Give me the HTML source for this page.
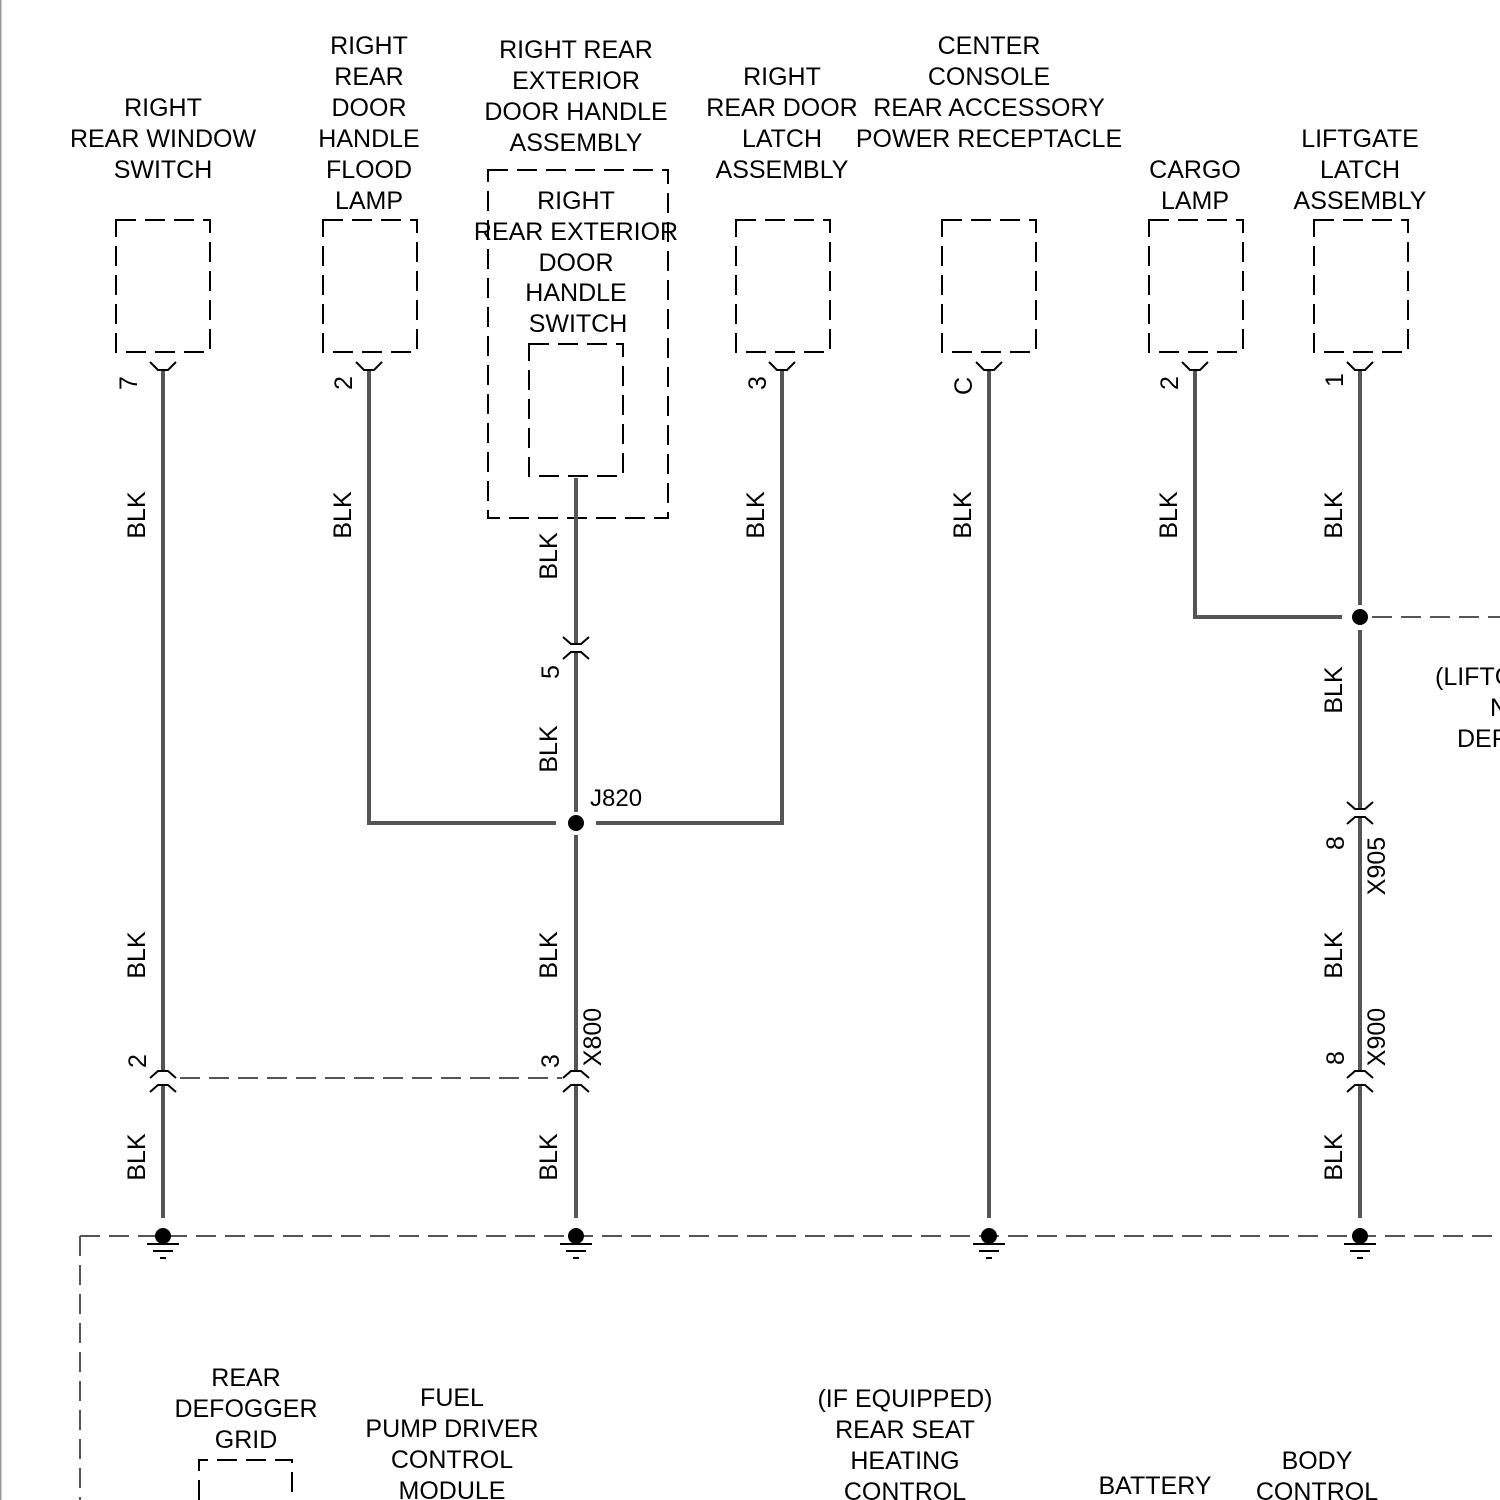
<!DOCTYPE html>
<html><head><meta charset="utf-8"><style>
html,body{margin:0;padding:0;background:#fff;}
svg{display:block;}
text{font-family:"Liberation Sans",sans-serif;font-size:25px;fill:#000;}
</style></head><body>
<svg width="1500" height="1500" viewBox="0 0 1500 1500" xmlns="http://www.w3.org/2000/svg">
<line x1="0.5" y1="0" x2="0.5" y2="1500" stroke="#999" stroke-width="2"/>
<g text-anchor="middle">
<text x="163" y="116">RIGHT</text><text x="163" y="147">REAR WINDOW</text><text x="163" y="178">SWITCH</text>
<text x="369" y="54">RIGHT</text><text x="369" y="85">REAR</text><text x="369" y="116">DOOR</text><text x="369" y="147">HANDLE</text><text x="369" y="178">FLOOD</text><text x="369" y="209">LAMP</text>
<text x="576" y="58">RIGHT REAR</text><text x="576" y="89">EXTERIOR</text><text x="576" y="120">DOOR HANDLE</text><text x="576" y="151">ASSEMBLY</text>
<text x="576" y="209">RIGHT</text><text x="576" y="240">REAR EXTERIOR</text><text x="576" y="271">DOOR</text><text x="576" y="301">HANDLE</text><text x="578" y="332">SWITCH</text>
<text x="782" y="85">RIGHT</text><text x="782" y="116">REAR DOOR</text><text x="782" y="147">LATCH</text><text x="782" y="178">ASSEMBLY</text>
<text x="989" y="54">CENTER</text><text x="989" y="85">CONSOLE</text><text x="989" y="116">REAR ACCESSORY</text><text x="989" y="147">POWER RECEPTACLE</text>
<text x="1195" y="178">CARGO</text><text x="1195" y="209">LAMP</text>
<text x="1360" y="147">LIFTGATE</text><text x="1360" y="178">LATCH</text><text x="1360" y="209">ASSEMBLY</text>
<text x="246" y="1386">REAR</text><text x="246" y="1417">DEFOGGER</text><text x="246" y="1448">GRID</text>
<text x="452" y="1406">FUEL</text><text x="452" y="1437">PUMP DRIVER</text><text x="452" y="1468">CONTROL</text><text x="452" y="1499">MODULE</text>
<text x="905" y="1407">(IF EQUIPPED)</text><text x="905" y="1438">REAR SEAT</text><text x="905" y="1469">HEATING</text><text x="905" y="1500">CONTROL</text>
<text x="1155" y="1494">BATTERY</text>
<text x="1317" y="1469">BODY</text><text x="1317" y="1500">CONTROL</text>
</g>
<text x="1435" y="685">(LIFTG</text><text x="1490" y="716">N</text><text x="1457" y="747">DEF</text>
<text x="590" y="806" style="font-size:24px">J820</text>

<g fill="none" stroke="#000" stroke-width="2" stroke-dasharray="20,9">
<rect x="116" y="220" width="94" height="132"/>
<rect x="323" y="220" width="94" height="132"/>
<rect x="736" y="220" width="94" height="132"/>
<rect x="942" y="220" width="94" height="132"/>
<rect x="1149" y="220" width="94" height="132"/>
<rect x="1314" y="220" width="94" height="132"/>
<rect x="488" y="170" width="180" height="348"/>
<rect x="529" y="344" width="94" height="132"/>
<path d="M199 1500 V1460 H292 V1500"/>
</g>
<g fill="none" stroke="#555" stroke-width="2" stroke-dasharray="20,9">
<line x1="180" y1="1078" x2="562" y2="1078"/>
<line x1="1372" y1="617" x2="1500" y2="617"/>
<line x1="80" y1="1236" x2="1500" y2="1236"/>
<line x1="80" y1="1236" x2="80" y2="1500"/>
</g>

<g fill="none" stroke="#555" stroke-width="4">
<path d="M163 370 V1071 M163 1085 V1218"/>
<path d="M369 370 V823 H556"/>
<path d="M576 478 V644 M576 652 V812 M576 835 V1071 M576 1085 V1218"/>
<path d="M782 370 V823 H596"/>
<path d="M989 370 V1218"/>
<path d="M1195 370 V617 H1342"/>
<path d="M1360 370 V605 M1360 630 V809 M1360 817 V1071 M1360 1085 V1218"/>
</g>
<g fill="none" stroke="#000" stroke-width="2">
<path d="M150 362 L158 370 H168 L176 362"/>
<path d="M356 362 L364 370 H374 L382 362"/>
<path d="M769 362 L777 370 H787 L795 362"/>
<path d="M976 362 L984 370 H994 L1002 362"/>
<path d="M1182 362 L1190 370 H1200 L1208 362"/>
<path d="M1347 362 L1355 370 H1365 L1373 362"/>
<path d="M563 637 L571 644 H581 L589 637 M563 659 L571 652 H581 L589 659"/>
<path d="M1347 802 L1355 809 H1365 L1373 802 M1347 824 L1355 817 H1365 L1373 824"/>
<path d="M150 1078 L158 1071 H168 L176 1078 M150 1092 L158 1085 H168 L176 1092"/>
<path d="M563 1078 L571 1071 H581 L589 1078 M563 1092 L571 1085 H581 L589 1092"/>
<path d="M1347 1078 L1355 1071 H1365 L1373 1078 M1347 1092 L1355 1085 H1365 L1373 1092"/>
</g>
<g fill="#000">
<circle cx="576" cy="823" r="8"/><circle cx="1360" cy="617" r="8"/>
<circle cx="163" cy="1236" r="8"/><circle cx="576" cy="1236" r="8"/><circle cx="989" cy="1236" r="8"/><circle cx="1360" cy="1236" r="8"/>
</g>
<g stroke="#000" stroke-width="2">
<path d="M147 1244 H179 M153 1251 H173 M160 1258 H166"/>
<path d="M560 1244 H592 M566 1251 H586 M573 1258 H579"/>
<path d="M973 1244 H1005 M979 1251 H999 M986 1258 H992"/>
<path d="M1344 1244 H1376 M1350 1251 H1370 M1357 1258 H1363"/>
</g>
<g text-anchor="middle" style="font-size:24px">
<text transform="translate(137,383) rotate(-90)">7</text>
<text transform="translate(352,383) rotate(-90)">2</text>
<text transform="translate(766,383) rotate(-90)">3</text>
<text transform="translate(972,386) rotate(-90)">C</text>
<text transform="translate(1178,383) rotate(-90)">2</text>
<text transform="translate(1343,380) rotate(-90)">1</text>
<text transform="translate(559,672) rotate(-90)">5</text>
<text transform="translate(146,1061) rotate(-90)">2</text>
<text transform="translate(559,1061) rotate(-90)">3</text>
<text transform="translate(1344,843) rotate(-90)">8</text>
<text transform="translate(1344,1058) rotate(-90)">8</text>
<text transform="translate(601,1037) rotate(-90)">X800</text>
<text transform="translate(1385,866) rotate(-90)">X905</text>
<text transform="translate(1385,1037) rotate(-90)">X900</text>
<text transform="translate(145,515) rotate(-90)">BLK</text>
<text transform="translate(351,515) rotate(-90)">BLK</text>
<text transform="translate(764,515) rotate(-90)">BLK</text>
<text transform="translate(971,515) rotate(-90)">BLK</text>
<text transform="translate(1177,515) rotate(-90)">BLK</text>
<text transform="translate(1342,515) rotate(-90)">BLK</text>
<text transform="translate(557,556) rotate(-90)">BLK</text>
<text transform="translate(557,749) rotate(-90)">BLK</text>
<text transform="translate(1342,690) rotate(-90)">BLK</text>
<text transform="translate(145,955) rotate(-90)">BLK</text>
<text transform="translate(557,955) rotate(-90)">BLK</text>
<text transform="translate(1342,955) rotate(-90)">BLK</text>
<text transform="translate(145,1157) rotate(-90)">BLK</text>
<text transform="translate(557,1157) rotate(-90)">BLK</text>
<text transform="translate(1342,1157) rotate(-90)">BLK</text>
</g>
</svg>
</body></html>
